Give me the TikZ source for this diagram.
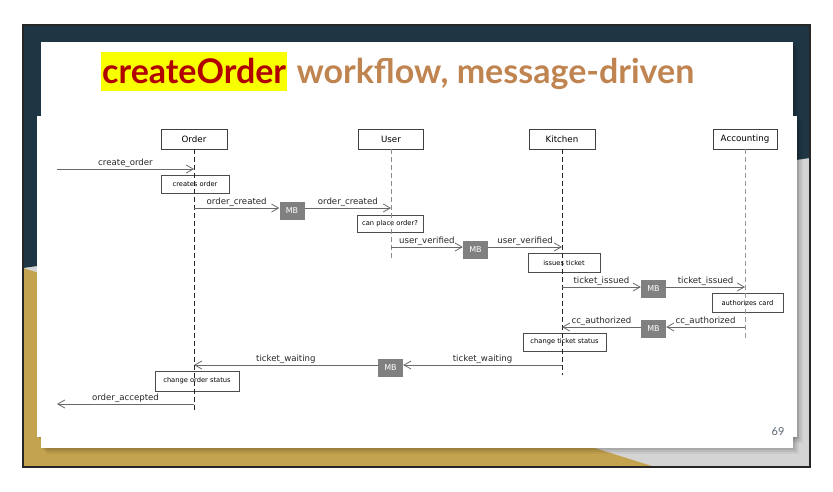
\documentclass[tikz,border=0pt]{standalone}
\usepackage{fontspec}
\setmainfont{DejaVu Sans}
\newfontfamily\titlefont{Lato}
\usetikzlibrary{arrows.meta}

\definecolor{slidenavy}{RGB}{30,54,68}
\definecolor{slidegold}{RGB}{196,163,78}
\definecolor{slidegray}{RGB}{212,212,212}
\definecolor{titlered}{RGB}{176,0,0}
\definecolor{titlebrown}{RGB}{192,132,80}
\definecolor{titleyellow}{RGB}{247,255,0}
\definecolor{mbgray}{RGB}{128,128,128}
\definecolor{msggray}{RGB}{105,105,105}
\definecolor{pagenum}{RGB}{90,100,112}

\begin{document}
\begin{tikzpicture}[x=1pt, y=-1pt,
    lifehead/.style={draw=black!75, fill=white, minimum height=20pt,
      inner sep=0pt, font=\fontsize{8.7}{10}\selectfont},
    lifeline/.style={dash pattern=on 5pt off 3pt, line width=0.7pt},
    memo/.style={draw=black!70, inner sep=0pt, font=\fontsize{6.7}{8}\selectfont},
    mbox/.style={fill=mbgray, text=white, minimum width=25pt,
      minimum height=18pt, inner sep=0pt, font=\fontsize{8}{9}\selectfont},
    msg/.style={draw=msggray, line width=0.8pt,
      -{Straight Barb[length=7pt,width=8pt]}},
    msglabel/.style={above, inner sep=1pt, text=black!85,
      font=\fontsize{8.6}{10}\selectfont}]
  \useasboundingbox (0,0) rectangle (833,491);
  % Slide background
  \begin{scope}
    \clip (23,25) rectangle (810,467);
    \fill[slidegray] (23,25) rectangle (810,467);
    \fill[slidenavy] (23,25) -- (810,25) -- (810,158) -- (23,268) -- cycle;
    \fill[slidegold] (23,268) -- (23,467) -- (655,467) -- cycle;
  \end{scope}
  \draw[black!85, line width=1.2pt] (23,25) rectangle (810,467);
  % Shadows
  \foreach \s/\o in {6/0.05, 4/0.07, 2/0.09}{
    \fill[black, opacity=\o] (41+\s,42+\s) rectangle (793+\s,448+\s);
    \fill[black, opacity=\o] (37+\s,116+\s) rectangle (797+\s,437+\s);
  }
  % Panels
  \fill[white] (41,42) rectangle (793,448);
  \fill[white] (37,116) rectangle (797,437);
  % Title
  \node (hl) [fill=titleyellow, text=titlered, anchor=west, inner xsep=1pt,
    inner ysep=0pt, minimum height=39pt,
    font=\titlefont\bfseries\fontsize{34}{38}\selectfont] at (101,71.5) {createOrder};
  \node (rest) [anchor=base west, text=titlebrown, inner sep=0pt,
    font=\titlefont\bfseries\fontsize{34}{38}\selectfont]
    at ([xshift=9pt]hl.base east) {workflow, message-driven};
  \node (page) [text=pagenum, font=\titlefont\fontsize{11}{12}\selectfont] at (778,432) {69};

  % Participants
  \node (order) [lifehead, minimum width=66pt] at (194,139) {Order};
  \node (user) [lifehead, minimum width=65pt] at (391,139) {User};
  \node (kitchen) [lifehead, minimum width=66pt] at (562,139) {Kitchen};
  \node (accounting) [lifehead, minimum width=64pt] at (745,139) {Accounting};

  % Notes
  \node (creates) [memo, minimum width=68pt, minimum height=18pt] at (195,184) {creates order};
  \node (canplace) [memo, minimum width=66pt, minimum height=17pt] at (390,223.5) {can place order?};
  \node (issues) [memo, minimum width=72pt, minimum height=19pt] at (564,262.5) {issues ticket};
  \node (authorizes) [memo, minimum width=71pt, minimum height=19pt] at (747.5,302.5) {authorizes card};
  \node (tstatus) [memo, minimum width=83pt, minimum height=18pt] at (564.5,342) {change ticket status};
  \node (ostatus) [memo, minimum width=84pt, minimum height=20pt] at (197,381) {change order status};

  % Lifelines
  \coordinate (orderend) at (194,410);
  \coordinate (userend) at (391,258);
  \coordinate (kitchenend) at (562,375);
  \coordinate (accountingend) at (745,338);
  \draw[lifeline, black!85] (order.south) -- (orderend);
  \draw[lifeline, black!45] (user.south) -- (userend);
  \draw[lifeline, black!85] (kitchen.south) -- (kitchenend);
  \draw[lifeline, black!40] (accounting.south) -- (accountingend);

  % Message brokers
  \node (mb1) [mbox] at (292,211) {MB};
  \node (mb2) [mbox] at (475.5,249.5) {MB};
  \node (mb3) [mbox] at (653.5,289) {MB};
  \node (mb4) [mbox] at (653.5,328.5) {MB};
  \node (mb5) [mbox] at (390.5,368) {MB};

  % Message points
  \coordinate (start) at (57,169);
  \coordinate (o1) at (194,169);
  \coordinate (o2) at (194,208);
  \coordinate (u1) at (391,208);
  \coordinate (u2) at (391,247);
  \coordinate (k1) at (562,247);
  \coordinate (k2) at (562,287);
  \coordinate (a1) at (745,287);
  \coordinate (a2) at (745,327);
  \coordinate (k3) at (562,327);
  \coordinate (k4) at (562,365);
  \coordinate (o3) at (194,365);
  \coordinate (o4) at (194,404);
  \coordinate (finish) at (57,404);

  % Messages
  \draw[msg] (start) -- (o1) node[msglabel, midway] {create\_order};
  \draw[msg] (o2) -- (o2 -| mb1.west) node[msglabel, midway] {order\_created};
  \draw[msg] (mb1.east |- o2) -- (u1) node[msglabel, midway] {order\_created};
  \draw[msg] (u2) -- (u2 -| mb2.west) node[msglabel, midway] {user\_verified};
  \draw[msg] (mb2.east |- u2) -- (k1) node[msglabel, midway] {user\_verified};
  \draw[msg] (k2) -- (k2 -| mb3.west) node[msglabel, midway] {ticket\_issued};
  \draw[msg] (mb3.east |- k2) -- (a1) node[msglabel, midway] {ticket\_issued};
  \draw[msg] (a2) -- (a2 -| mb4.east) node[msglabel, midway] {cc\_authorized};
  \draw[msg] (mb4.west |- a2) -- (k3) node[msglabel, midway] {cc\_authorized};
  \draw[msg] (k4) -- (k4 -| mb5.east) node[msglabel, midway] {ticket\_waiting};
  \draw[msg] (mb5.west |- k4) -- (o3) node[msglabel, midway] {ticket\_waiting};
  \draw[msg] (o4) -- (finish) node[msglabel, midway] {order\_accepted};
\end{tikzpicture}
\end{document}
